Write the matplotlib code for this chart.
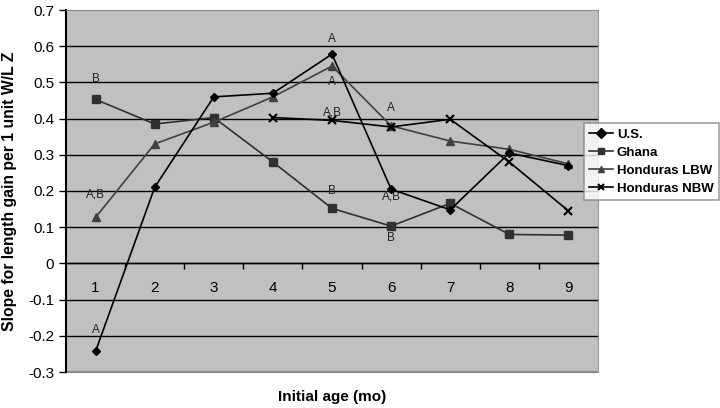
import numpy as np
import matplotlib
matplotlib.use("Agg")
import matplotlib.pyplot as plt

plt.rcParams['font.family'] = ['Liberation Sans', 'DejaVu Sans']

ages = [1, 2, 3, 4, 5, 6, 7, 8, 9]
us = [-0.243, 0.21, 0.46, 0.47, 0.578, 0.205, 0.148, 0.305, 0.27]
ghana = [0.453, 0.385, 0.403, 0.28, 0.152, 0.103, 0.166, 0.08, 0.078]
hond_lbw = [0.127, 0.33, 0.39, 0.46, 0.545, 0.38, 0.338, 0.315, 0.275]
nbw_ages = [4, 5, 6, 7, 8, 9]
hond_nbw = [0.403, 0.395, 0.377, 0.398, 0.28, 0.145]

# significance letters: (age, y, text)
notes = [(1, 0.51, "B"), (1, 0.19, "A,B"), (1, -0.185, "A"),
         (5, 0.62, "A"), (5, 0.50, "A"), (5, 0.418, "A,B"), (5, 0.2, "B"),
         (6, 0.43, "A"), (6, 0.185, "A,B"), (6, 0.07, "B")]

fig = plt.figure(figsize=(7.2, 4.08), dpi=100)
ax = fig.add_axes([66/720, 1-372/408, 532/720, 362/408])
ax.set_facecolor('#c0c0c0')

ax.set_xlim(0.5, 9.5)
ax.set_ylim(-0.3, 0.7)
yt = np.round(np.arange(-0.3, 0.71, 0.1), 1)
ax.set_yticks(yt)
ax.set_yticklabels([("%g" % v) for v in yt], fontsize=11)
for v in yt[1:-1]:
    ax.axhline(v, color='black', lw=1.0, zorder=1)

# x axis sits on zero line
ax.spines['bottom'].set_position(('data', 0))
ax.spines['bottom'].set_color('black')
ax.spines['bottom'].set_linewidth(1.0)
ax.set_xticks(ages)
ax.set_xticklabels([str(a) for a in ages], fontsize=11)
ax.set_xticks(np.arange(1.5, 9, 1), minor=True)
ax.tick_params(axis='x', which='major', length=0, pad=13)
ax.tick_params(axis='x', which='minor', length=4, width=1, direction='out')
ax.tick_params(axis='y', length=5, width=1, direction='out')
ax.spines['left'].set_linewidth(1.5)
ax.spines['top'].set_color('#888888')
ax.spines['right'].set_color('#999999')
ax.axhline(-0.3, color='#888888', lw=1.5, clip_on=False)

ax.plot(ages, us, color='black', lw=1.2, marker='D', ms=4, label='U.S.', zorder=4)
ax.plot(ages, ghana, color='#303030', lw=1.2, marker='s', ms=6, label='Ghana', zorder=3)
ax.plot(ages, hond_lbw, color='#404040', lw=1.2, marker='^', ms=6, label='Honduras LBW', zorder=3)
ax.plot(nbw_ages, hond_nbw, color='black', lw=1.2, marker='x', ms=6, mew=1.5,
        label='Honduras NBW', zorder=4)

for x, y, t in notes:
    ax.text(x, y, t, fontsize=8.5, ha='center', va='center', color='#222222')

ax.set_ylabel("Slope for length gain per 1 unit W/L Z", fontsize=11.3, fontweight='bold', labelpad=8)
fig.text(332/720, 1-397/408, "Initial age (mo)", fontsize=11, fontweight='bold', ha='center', va='center')

leg = fig.legend(loc='upper left', bbox_to_anchor=(584/720, 1-123/408), frameon=True,
                 fancybox=False, edgecolor='#888888', prop={'weight': 'bold', 'size': 9.5},
                 handlelength=1.8, borderpad=0.4, labelspacing=0.45, handletextpad=0.3,
                 borderaxespad=0)
leg.get_frame().set_linewidth(1.2)
for h in leg.legend_handles:
    h.set_markersize(5)

fig.savefig("out.png", dpi=100)
